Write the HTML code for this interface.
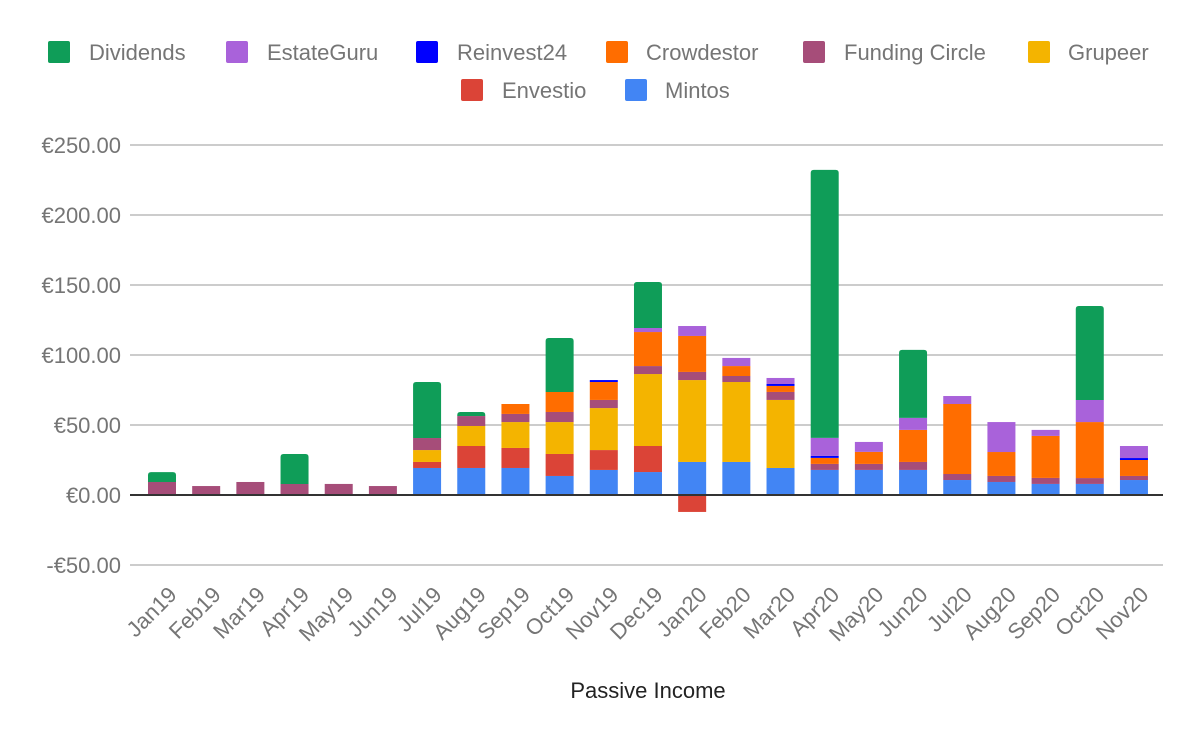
<!DOCTYPE html>
<html><head><meta charset="utf-8"><style>
body{margin:0;background:#fff}
svg{display:block;font-family:"Liberation Sans",sans-serif}
</style></head><body>
<svg id="chart" width="1200" height="742" viewBox="0 0 1200 742">
<g id="legend"></g>
<g id="grid"></g>
<g id="bars"></g>
<g id="xaxis"></g>
<text x="648" y="698" text-anchor="middle" font-size="22" fill="#222">Passive Income</text>
</svg>
<script>
const categories=["Jan19","Feb19","Mar19","Apr19","May19","Jun19","Jul19","Aug19","Sep19","Oct19","Nov19","Dec19","Jan20","Feb20","Mar20","Apr20","May20","Jun20","Jul20","Aug20","Sep20","Oct20","Nov20"];
const mintos=[0,0,0,0,0,0,19.3,19.3,19.3,13.6,17.9,16.4,23.6,23.6,19.3,17.9,17.9,17.9,10.7,9.3,7.9,7.9,10.7];
const envestio=[0,0,0,0,0,0,4.3,15.7,14.3,15.7,14.2,18.6,-12.1,0,0,0,0,0,0,0,0,0,0];
const grupeer=[0,0,0,0,0,0,8.5,14.3,18.5,22.8,30,51.4,58.5,57.1,48.6,0,0,0,0,0,0,0,0];
const fundingCircle=[9.3,6.4,9.3,7.9,7.9,6.4,8.6,7.1,5.8,7.2,5.8,5.7,5.8,4.3,5.7,4.3,4.3,5.7,4.3,4.3,4.3,4.2,2.9];
const crowdestor=[0,0,0,0,0,0,0,0,7.1,14.3,12.8,24.3,25.7,7.1,4.3,4.3,8.6,22.9,50,17.1,30,40,11.4];
const reinvest24=[0,0,0,0,0,0,0,0,0,0,1.4,0,0,0,1.4,1.4,0,0,0,0,0,0,1.4];
const estateGuru=[0,0,0,0,0,0,0,0,0,0,0,2.9,7.1,5.8,4.3,12.9,7.1,8.6,5.7,21.4,4.3,15.8,8.6];
const dividends=[7,0,0,21.4,0,0,40,2.9,0,38.5,0,32.8,0,0,0,191.4,0,48.6,0,0,0,67.1,0];
const yTicks=[-50,0,50,100,150,200,250];
const yTickLabels=["-€50.00","€0.00","€50.00","€100.00","€150.00","€200.00","€250.00"];
const seriesNames=["Mintos","Envestio","Grupeer","Funding Circle","Crowdestor","Reinvest24","EstateGuru","Dividends"];
const seriesData=[mintos,envestio,grupeer,fundingCircle,crowdestor,reinvest24,estateGuru,dividends];
const colors=["#4285f4","#db4437","#f4b400","#a64d79","#ff6d00","#0000ff","#a962da","#0f9d58"];
const NS="http://www.w3.org/2000/svg";
function y(v){return 495-v*1.4;}
function x(i){return 162+i*44.18;}
function mk(t,a,p){const e=document.createElementNS(NS,t);for(const k in a)e.setAttribute(k,a[k]);p.appendChild(e);return e;}
const grid=document.getElementById('grid');
yTicks.forEach((t,i)=>{
  if(t!==0){const l=mk('line',{x1:130,x2:1163,y1:y(t),y2:y(t),stroke:'#ccc','stroke-width':2},grid);
  
  }
  const tx=mk('text',{x:121,y:y(t)+8,'text-anchor':'end','font-size':22,fill:'#757575'},grid);
  tx.textContent=yTickLabels[i];
  
  
});
const bars=document.getElementById('bars');
categories.forEach((c,i)=>{
  let pos=0,neg=0,top=-1;
  seriesData.forEach((s,k)=>{if(s[i]>0)top=k;});
  seriesData.forEach((s,k)=>{
    const v=s[i]; if(!v)return;
    let y0,y1;
    if(v>0){y0=pos;pos+=v;y1=pos;}else{y1=neg;neg+=v;y0=neg;}
    const L=x(i)-14,R=x(i)+14,T=y(y1),B=y(y0);
    let el;
    if(k===top&&k===7){
      const r=3;
      el=mk('path',{d:`M${L} ${B}V${T+r}Q${L} ${T} ${L+r} ${T}H${R-r}Q${R} ${T} ${R} ${T+r}V${B}Z`,fill:colors[k]},bars);
    }else{
      el=mk('rect',{x:L,y:T,width:28,height:B-T,fill:colors[k]},bars);
    }
    
    
  });
});
const xa=document.getElementById('xaxis');
const zl=mk('line',{x1:130,x2:1163,y1:495,y2:495,stroke:'#333','stroke-width':2},xa);


categories.forEach((c,i)=>{
  const px=x(i)+16,py=596;
  const t=mk('text',{x:px,y:py,'text-anchor':'end','font-size':22,fill:'#757575',transform:`rotate(-45 ${px} ${py})`},xa);
  t.textContent=c;
  
  
});
const legendItems=[["Dividends",7,48,89,52],["EstateGuru",6,226,267,52],["Reinvest24",5,416,457,52],["Crowdestor",4,606,646,52],["Funding Circle",3,803,844,52],["Grupeer",2,1028,1068,52],["Envestio",1,461,502,90],["Mintos",0,625,665,90]];
const lg=document.getElementById('legend');
legendItems.forEach(([n,k,sx,tx,cy])=>{
  const r=mk('rect',{x:sx,y:cy-11,width:22,height:22,rx:2,fill:colors[k]},lg);
  
  
  const t=mk('text',{x:tx,y:cy+8,'font-size':22,fill:'#757575'},lg);
  t.textContent=n;
  
  
});
</script>
</body></html>
